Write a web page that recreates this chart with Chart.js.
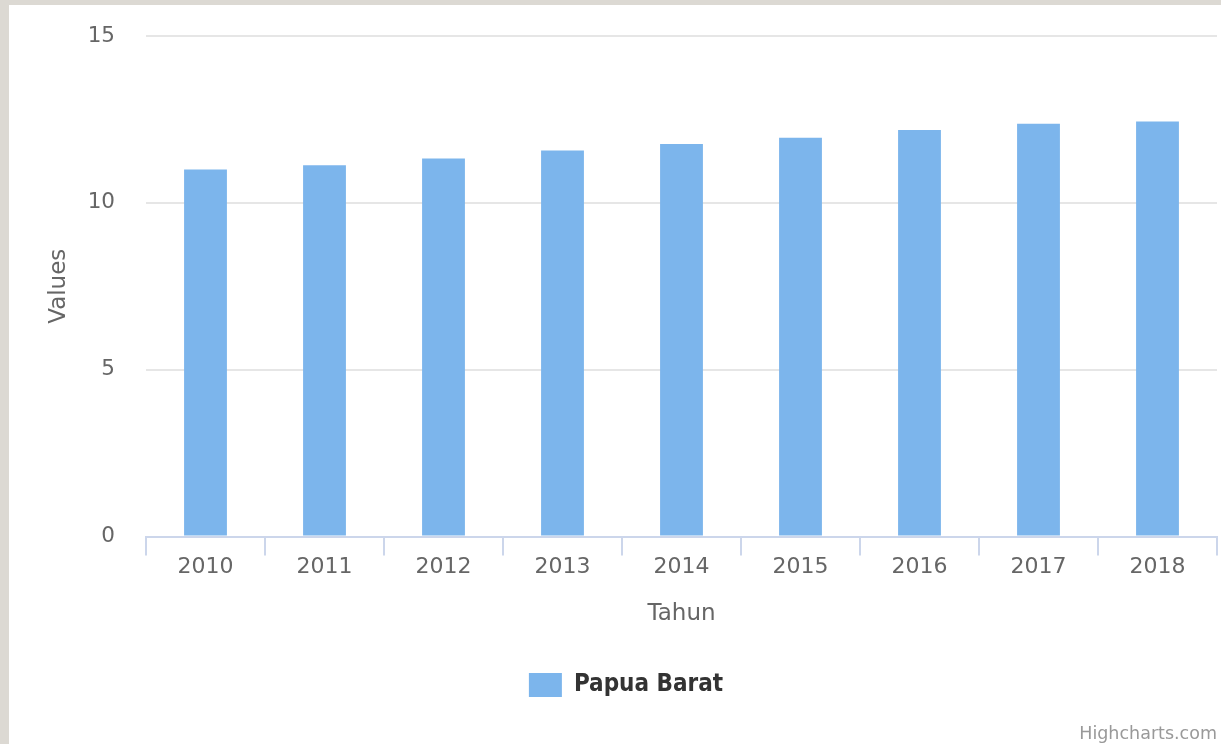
<!DOCTYPE html>
<html>
<head>
<meta charset="utf-8">
<script src="https://cdn.jsdelivr.net/npm/chart.js@4"></script>
<style>
  html, body { margin: 0; padding: 0; width: 1221px; height: 744px; overflow: hidden; background: #dcd9d3; }
  #wrap { position: absolute; left: 9px; top: 5px; width: 1212px; height: 739px; background: #ffffff; }
  canvas { display: block; }
</style>
</head>
<body>
<div id="wrap"><canvas id="c"></canvas></div>
<script>
// ---- data ----
const categories = ['2010', '2011', '2012', '2013', '2014', '2015', '2016', '2017', '2018'];
const seriesName = 'Papua Barat';
const papuaBarat = [11.0, 11.13, 11.33, 11.57, 11.76, 11.95, 12.18, 12.37, 12.44];
const yTickValues = [0, 5, 10, 15];
const xTitle = 'Tahun';
const yTitle = 'Values';
const creditText = 'Highcharts.com';

const creditPlugin = {
  id: 'credit',
  afterDraw(chart) {
    const ctx = chart.ctx;
    ctx.save();
    ctx.font = '17.5px "DejaVu Sans"';
    ctx.fillStyle = '#999999';
    ctx.textAlign = 'right';
    ctx.textBaseline = 'alphabetic';
    ctx.fillText(creditText, chart.width - 4, chart.height - 5.3);
    ctx.restore();
  }
};

new Chart(document.getElementById('c'), {
  type: 'bar',
  data: {
    labels: categories,
    datasets: [{
      label: seriesName,
      data: papuaBarat,
      backgroundColor: '#7cb5ec',
      borderWidth: 0,
      barPercentage: 0.36,
      categoryPercentage: 1.0
    }]
  },
  options: {
    responsive: true,
    maintainAspectRatio: false,
    animation: false,
    layout: { padding: { left: 26, right: 4, top: 31, bottom: 37 } },
    plugins: {
      tooltip: { enabled: false },
      title: { display: false },
      legend: {
        display: true,
        position: 'bottom',
        labels: {
          boxWidth: 33,
          boxHeight: 24,
          padding: 10,
          color: '#333333',
          font: { family: '"DejaVu Sans Condensed", "DejaVu Sans"', size: 24, weight: 'bold' }
        }
      }
    },
    scales: {
      x: {
        grid: {
          display: true,
          drawOnChartArea: false,
          drawTicks: true,
          tickLength: 19,
          offset: true,
          color: '#ccd6eb',
          lineWidth: 2
        },
        border: { display: true, color: '#ccd6eb', width: 2 },
        ticks: {
          color: '#666666',
          padding: 1,
          maxRotation: 0,
          font: { family: '"DejaVu Sans"', size: 22, lineHeight: 1 }
        },
        title: {
          display: true,
          text: xTitle,
          color: '#666666',
          font: { family: '"DejaVu Sans"', size: 23 },
          padding: { top: 0, bottom: 35.5 }
        },
        afterFit(scale) { scale.height = 126.5; }
      },
      y: {
        min: 0,
        max: 15,
        afterBuildTicks(scale) { scale.ticks = yTickValues.map(v => ({ value: v })); },
        grid: {
          drawTicks: true,
          tickLength: 31,
          tickColor: 'rgba(0,0,0,0)',
          color: (c) => (c.tick && c.tick.value === 0) ? 'rgba(0,0,0,0)' : '#e6e6e6',
          lineWidth: 2
        },
        border: { display: false },
        ticks: {
          color: '#666666',
          padding: 0,
          font: { family: '"DejaVu Sans"', size: 21.5 }
        },
        title: {
          display: true,
          text: yTitle,
          color: '#666666',
          font: { family: '"DejaVu Sans"', size: 23 },
          padding: { top: 10, bottom: 0 }
        },
        afterFit(scale) { scale.width = 111; }
      }
    }
  },
  plugins: [creditPlugin]
});
</script>
</body>
</html>
